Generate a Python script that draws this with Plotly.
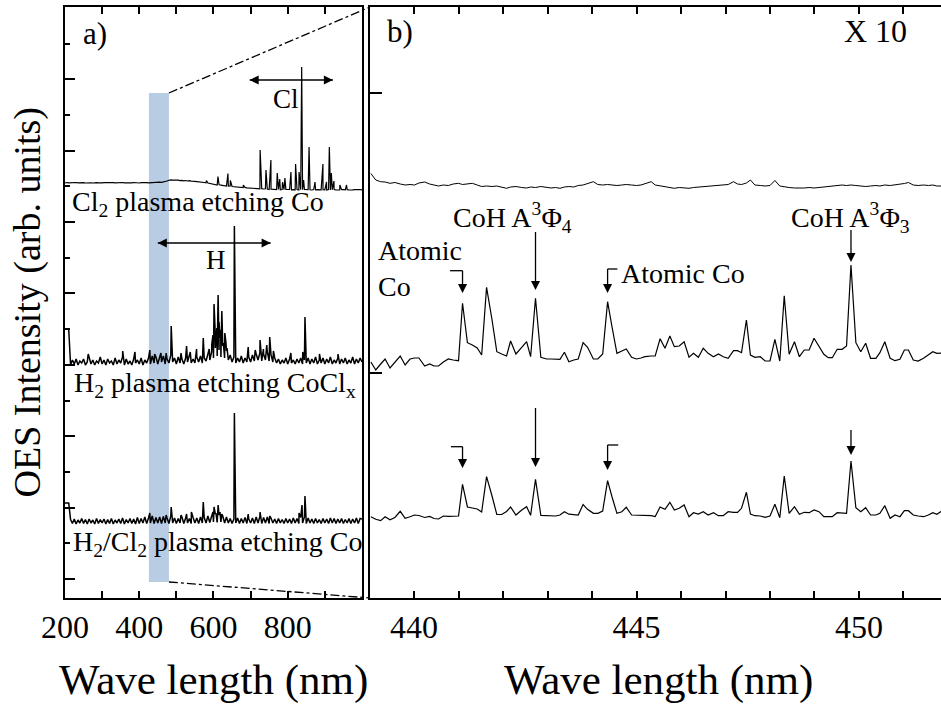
import plotly.graph_objects as go

# ---------------------------------------------------------------- data
# Survey spectra (panel a): baseline samples on a 5 nm grid plus emission lines
GRID_NM = list(range(200, 1001, 5))

cl2_noise = [
    41.50, 41.55, 41.52, 41.54, 41.50, 41.53, 41.55, 41.51, 41.53, 41.52,
    41.54, 41.50, 41.53, 41.55, 41.52, 41.50, 41.54, 41.53, 41.51, 41.55,
    41.52, 41.54, 41.50, 41.53, 41.55, 41.51, 41.53, 41.52, 41.54, 41.50,
    41.53, 41.55, 41.52, 41.50, 41.54, 41.53, 41.51, 41.55, 41.52, 41.54,
    41.50, 41.53, 41.55, 41.52, 41.54, 41.51, 41.53, 41.55, 41.52, 41.56,
    41.55, 41.58, 41.56, 41.60, 41.62, 41.70, 41.78, 41.82, 41.78, 41.80,
    41.76, 41.79, 41.74, 41.77, 41.72, 41.75, 41.70, 41.73, 41.68, 41.70,
    41.66, 41.64, 41.60, 41.62, 41.58, 41.55, 41.52, 41.50, 41.46, 41.42,
    41.38, 41.36, 41.30, 41.34, 41.28, 41.25, 41.22, 41.20, 41.18, 41.20,
    41.15, 41.12, 41.10, 41.12, 41.08, 41.06, 41.04, 41.06, 41.02, 41.00,
    40.98, 40.96, 40.95, 40.96, 40.94, 40.92, 40.93, 40.90, 40.92, 40.90,
    40.86, 40.88, 40.84, 40.87, 40.83, 40.86, 40.82, 40.85, 40.83, 40.86,
    40.82, 40.85, 40.81, 40.84, 40.82, 40.85, 40.81, 40.84, 40.82, 40.85,
    40.81, 40.84, 40.82, 40.80, 40.84, 40.81, 40.83, 40.85, 40.81, 40.84,
    40.82, 40.80, 40.84, 40.81, 40.83, 40.85, 40.81, 40.84, 40.80, 40.83,
    40.84, 40.81, 40.83, 40.80, 40.84, 40.81, 40.83, 40.85, 40.81, 40.83,
    40.82,
]
cl2_lines = [
    (581.0, 41.75), (612.0, 42.15), (639.0, 42.45), (645.5, 41.75), (680.5, 41.30),
    (725.7, 44.80), (741.4, 42.80), (754.7, 43.80), (771.8, 42.50), (778.5, 41.90),
    (786.0, 41.60), (792.4, 42.00), (808.7, 42.60), (821.2, 43.40), (830.5, 42.60),
    (837.6, 53.10), (842.8, 41.80), (857.5, 45.10), (873.5, 41.60), (894.8, 43.40),
    (904.5, 41.60), (912.1, 45.10), (917.5, 42.50), (924.5, 41.70), (940.5, 41.30),
    (958.5, 41.30),
]

h2_noise = [
    26.9, 26.9, 26.9, 23.3, 23.8, 23.4, 23.9, 23.3, 23.7, 23.5,
    23.9, 23.3, 23.6, 24.0, 23.4, 23.8, 23.3, 23.7, 23.5, 24.1,
    23.4, 23.8, 23.3, 23.9, 23.5, 23.7, 23.3, 24.0, 23.4, 23.8,
    23.5, 24.1, 23.3, 23.9, 23.4, 23.7, 23.3, 23.9, 23.5, 23.8,
    23.4, 24.0, 23.3, 23.8, 23.5, 24.0, 23.4, 24.2, 23.5, 24.1,
    23.4, 24.1, 23.6, 24.2, 23.4, 23.9, 23.5, 24.3, 23.6, 24.0,
    23.4, 24.1, 23.5, 23.9, 23.4, 24.0, 23.6, 24.2, 23.5, 23.9,
    23.5, 24.1, 23.6, 24.2, 23.5, 24.0, 23.7, 24.4, 23.8, 24.6,
    24.0, 25.0, 24.2, 24.8, 24.1, 25.2, 24.0, 24.7, 23.8, 24.3,
    23.6, 24.1, 23.5, 24.0, 23.6, 24.2, 23.5, 24.0, 23.6, 24.1,
    23.6, 24.3, 23.7, 24.4, 23.8, 24.5, 23.7, 24.4, 23.8, 24.6,
    23.7, 24.3, 23.6, 24.0, 23.5, 23.9, 23.4, 23.8, 23.5, 24.0,
    23.4, 23.9, 23.5, 23.8, 23.4, 23.9, 23.5, 24.0, 23.4, 23.8,
    23.5, 24.0, 23.4, 23.9, 23.5, 24.1, 23.4, 23.8, 23.5, 24.0,
    23.4, 23.9, 23.5, 24.1, 23.4, 23.8, 23.5, 24.0, 23.4, 23.9,
    23.5, 24.0, 23.4, 23.8, 23.5, 24.1, 23.4, 23.9, 23.5, 24.0,
    23.6,
]
h2_lines = [
    (262.5, 24.4), (355.5, 24.7), (388.5, 24.6), (428.5, 24.8), (441.5, 24.4),
    (458.5, 24.5), (472.5, 24.5), (486.1, 27.2), (512.5, 24.5), (527.5, 25.2),
    (537.5, 24.6), (554.5, 24.9), (572.5, 26.0), (588.5, 24.9), (595.5, 25.4),
    (598.5, 26.3), (601.5, 29.4), (604.0, 27.2), (606.5, 25.8), (609.0, 27.0),
    (612.5, 30.3), (615.0, 27.6), (617.5, 26.0), (619.5, 26.8), (622.5, 28.7),
    (626.5, 25.5), (630.5, 26.5), (633.5, 25.6), (636.5, 25.0), (656.3, 37.2),
    (693.5, 25.1), (712.5, 24.8), (725.5, 25.8), (734.5, 24.9), (743.5, 25.3),
    (751.5, 26.1), (761.5, 24.7), (808.5, 24.5), (840.5, 24.6), (846.5, 28.1),
    (885.5, 24.4), (935.5, 24.4),
]

h2cl2_noise = [
    9.50, 9.50, 9.50, 7.85, 7.45, 7.90, 7.40, 7.80, 7.50, 7.95,
    7.45, 7.85, 7.40, 7.90, 7.50, 7.80, 7.40, 7.95, 7.45, 7.85,
    7.50, 7.90, 7.40, 7.85, 7.45, 7.95, 7.40, 7.80, 7.50, 7.90,
    7.45, 8.00, 7.40, 7.85, 7.50, 7.95, 7.45, 7.90, 7.40, 8.05,
    7.45, 7.95, 7.50, 8.10, 7.45, 8.00, 7.50, 8.20, 7.45, 8.05,
    7.50, 8.10, 7.45, 8.15, 7.50, 8.00, 7.45, 8.20, 7.50, 8.00,
    7.45, 7.95, 7.50, 8.10, 7.45, 8.00, 7.50, 7.95, 7.45, 8.05,
    7.50, 8.00, 7.45, 8.10, 7.50, 8.05, 7.50, 8.20, 7.55, 8.30,
    7.60, 8.40, 7.55, 8.30, 7.60, 8.20, 7.50, 8.10, 7.50, 7.95,
    7.45, 7.90, 7.50, 8.00, 7.45, 7.95, 7.50, 8.05, 7.45, 7.90,
    7.50, 8.00, 7.45, 8.10, 7.50, 8.15, 7.45, 8.05, 7.50, 8.10,
    7.45, 8.00, 7.50, 7.90, 7.45, 7.95, 7.50, 7.85, 7.45, 7.95,
    7.50, 7.90, 7.45, 8.00, 7.50, 7.95, 7.45, 8.05, 7.50, 8.10,
    7.45, 8.00, 7.50, 7.90, 7.45, 7.95, 7.50, 7.85, 7.45, 7.95,
    7.50, 7.90, 7.45, 8.00, 7.50, 7.95, 7.45, 7.90, 7.50, 7.95,
    7.45, 7.85, 7.50, 7.95, 7.45, 7.90, 7.50, 8.00, 7.45, 7.95,
    7.90,
]
h2cl2_lines = [
    (428.5, 8.5), (472.5, 8.3), (486.1, 9.1), (512.5, 8.3), (527.5, 8.4),
    (540.5, 8.6), (572.5, 9.6), (598.5, 8.6), (601.5, 9.1), (606.5, 8.5),
    (612.5, 9.3), (617.5, 8.6), (622.5, 8.4), (656.3, 18.5), (693.5, 8.4),
    (725.5, 8.6), (751.5, 8.2), (830.5, 8.5), (838.5, 9.3), (846.5, 10.2),
]

# Zoomed window 439-452 nm (panel b), shared wavelength samples
wl_zoom = [
    439.03, 439.14, 439.25, 439.35, 439.46, 439.57, 439.69, 439.80, 439.91, 440.01,
    440.11, 440.24, 440.35, 440.45, 440.55, 440.66, 440.77, 440.88, 441.00, 441.09,
    441.20, 441.31, 441.42, 441.52, 441.63, 441.75, 441.86, 441.97, 442.08, 442.17,
    442.29, 442.42, 442.53, 442.62, 442.73, 442.85, 442.98, 443.08, 443.18, 443.28,
    443.38, 443.48, 443.59, 443.69, 443.80, 443.90, 444.03, 444.13, 444.24, 444.35,
    444.45, 444.56, 444.67, 444.77, 444.89, 445.00, 445.10, 445.19, 445.33, 445.42,
    445.53, 445.64, 445.75, 445.85, 445.96, 446.07, 446.18, 446.28, 446.39, 446.50,
    446.61, 446.73, 446.84, 446.95, 447.06, 447.18, 447.27, 447.36, 447.47, 447.56,
    447.66, 447.78, 447.89, 448.00, 448.11, 448.22, 448.32, 448.43, 448.55, 448.66,
    448.77, 448.88, 448.99, 449.10, 449.21, 449.31, 449.40, 449.51, 449.62, 449.72,
    449.82, 449.93, 450.04, 450.15, 450.26, 450.38, 450.47, 450.58, 450.70, 450.81,
    450.92, 451.02, 451.11, 451.22, 451.33, 451.45, 451.56, 451.66, 451.75, 451.84,
    451.96,
]
cl2_zoom = [
    42.45, 41.80, 41.63, 41.60, 41.47, 41.55, 41.40, 41.30, 41.35, 41.30,
    41.50, 41.60, 41.40, 41.30, 41.20, 41.30, 41.25, 41.40, 41.47, 41.35,
    41.40, 41.47, 41.30, 41.15, 41.20, 41.15, 41.20, 41.10, 40.97, 41.10,
    41.15, 41.05, 41.00, 41.10, 41.05, 41.15, 41.05, 41.00, 41.05, 40.97,
    41.10, 41.15, 41.10, 41.25, 41.30, 41.47, 41.63, 41.35, 41.30, 41.35,
    41.30, 41.25, 41.30, 41.35, 41.30, 41.25, 41.30, 41.40, 41.63, 41.30,
    41.20, 41.10, 41.00, 40.97, 41.05, 41.00, 40.97, 41.05, 41.10, 41.15,
    41.13, 41.20, 41.25, 41.30, 41.35, 41.63, 41.40, 41.35, 41.50, 41.80,
    41.30, 41.25, 41.20, 41.25, 41.75, 41.20, 41.10, 41.05, 41.00, 40.97,
    41.00, 41.05, 41.00, 41.05, 41.10, 41.15, 41.20, 41.25, 41.30, 41.25,
    41.30, 41.25, 41.20, 41.15, 41.20, 41.25, 41.20, 41.30, 41.25, 41.30,
    41.35, 41.45, 41.55, 41.30, 41.25, 41.30, 41.25, 41.30, 41.20, 41.20,
    41.20,
]
h2_zoom = [
    23.60, 22.80, 23.40, 23.90, 23.00, 23.60, 24.20, 23.30, 23.90, 24.00,
    24.00, 23.20, 23.40, 23.20, 23.20, 23.60, 23.90, 23.80, 23.73, 29.47,
    25.53, 25.30, 25.00, 24.30, 31.07, 27.90, 24.63, 24.40, 24.20, 25.70,
    24.40, 25.07, 25.63, 24.13, 29.97, 24.07, 23.90, 23.90, 23.87, 23.87,
    24.57, 23.63, 23.80, 23.90, 25.53, 25.07, 23.90, 23.90, 24.40, 29.63,
    27.10, 24.47, 24.70, 24.90, 24.07, 23.90, 24.00, 24.13, 24.20, 24.20,
    25.93, 24.97, 26.20, 25.13, 25.20, 25.63, 24.07, 24.47, 24.07, 24.97,
    24.47, 24.13, 24.40, 24.13, 23.97, 24.73, 24.73, 24.53, 27.80, 24.30,
    24.07, 24.13, 23.70, 23.70, 25.87, 23.70, 30.23, 24.37, 25.63, 24.13,
    24.80, 24.80, 25.97, 25.13, 24.37, 24.03, 24.03, 24.87, 24.87, 25.20,
    33.30, 25.53, 24.63, 25.47, 23.97, 23.97, 24.53, 25.63, 23.97, 23.73,
    23.87, 24.80, 24.80, 23.80, 23.70, 23.97, 24.30, 24.63, 24.47, 24.47,
    24.50,
]
h2cl2_zoom = [
    8.13, 7.87, 7.73, 8.13, 7.83, 8.05, 8.67, 7.97, 8.13, 8.30,
    8.25, 8.05, 8.15, 7.95, 7.90, 8.20, 8.17, 8.20, 8.20, 11.37,
    9.10, 9.00, 8.90, 8.60, 12.13, 10.25, 8.35, 8.35, 8.65, 9.10,
    8.30, 8.80, 9.13, 8.27, 11.87, 8.27, 8.25, 8.25, 8.20, 8.30,
    8.63, 8.38, 8.30, 8.30, 9.34, 8.87, 8.47, 8.47, 8.70, 11.73,
    10.10, 8.47, 8.63, 9.07, 8.30, 8.30, 8.25, 8.23, 8.23, 8.15,
    9.10, 8.87, 9.57, 8.80, 8.97, 9.30, 8.13, 8.53, 8.40, 8.63,
    8.30, 8.53, 8.23, 8.23, 8.63, 8.57, 8.57, 8.97, 10.57, 8.40,
    8.23, 8.20, 8.07, 8.20, 9.37, 8.03, 12.20, 8.47, 9.13, 8.37,
    8.57, 8.53, 8.80, 8.63, 8.13, 8.13, 8.13, 8.53, 8.47, 8.47,
    13.70, 9.03, 8.63, 9.03, 8.30, 8.30, 8.47, 9.23, 7.97, 8.30,
    8.13, 8.73, 8.73, 8.30, 8.20, 8.13, 8.30, 8.53, 8.37, 8.63,
    8.60,
]

# Peaks marked in panel b (nm)
atomic_co_peaks = [441.09, 444.35]
coh_a4_peak = 442.73
coh_a3_peak = 449.82

# Highlighted window in panel a (nm) and its vertical extent
window_nm = (426.0, 480.0)
window_level = (1.6, 50.5)

# Axis tick labels
survey_ticks = [200, 400, 600, 800]
zoom_ticks = [440, 445, 450]

# ---------------------------------------------------------------- layout geometry
W, H = 941, 705
ML, MR, MT, MB = 65, 0, 7, 107
X1_DOMAIN = [0.0, 0.3390]
X2_DOMAIN = [0.3482, 1.0]
X1_RANGE = [200, 1000]
X2_RANGE = [439.011, 451.843]
Y_RANGE = [0, 59.1]

FONT = "Liberation Serif, Times New Roman, serif"
BLACK = "#000000"


def spectrum(noise, lines):
    pts = sorted(list(zip(GRID_NM, noise)) + list(lines), key=lambda p: p[0])
    return [p[0] for p in pts], [p[1] for p in pts]


def paper_x(v, rng, dom):
    return dom[0] + (v - rng[0]) / (rng[1] - rng[0]) * (dom[1] - dom[0])


def paper_y(v):
    return (v - Y_RANGE[0]) / (Y_RANGE[1] - Y_RANGE[0])


fig = go.Figure()

# panel a spectra
for noise, lines, w in [(cl2_noise, cl2_lines, 1.2), (h2_noise, h2_lines, 1.5),
                        (h2cl2_noise, h2cl2_lines, 1.5)]:
    xs, ys = spectrum(noise, lines)
    fig.add_trace(go.Scatter(x=xs, y=ys, mode="lines", line=dict(color=BLACK, width=w),
                             xaxis="x", yaxis="y", showlegend=False, hoverinfo="skip"))

# panel b spectra
for ys, w in [(cl2_zoom, 1.0), (h2_zoom, 1.2), (h2cl2_zoom, 1.2)]:
    fig.add_trace(go.Scatter(x=wl_zoom, y=ys, mode="lines", line=dict(color=BLACK, width=w),
                             xaxis="x2", yaxis="y2", showlegend=False, hoverinfo="skip"))

shapes = []
# highlighted window
shapes.append(dict(type="rect", xref="x", yref="y", x0=window_nm[0], x1=window_nm[1],
                   y0=window_level[0], y1=window_level[1], fillcolor="#B8CCE4",
                   line=dict(width=0), layer="below"))
# zoom connectors
wx1 = paper_x(window_nm[1], X1_RANGE, X1_DOMAIN)
shapes.append(dict(type="line", xref="paper", yref="paper", x0=wx1, y0=paper_y(window_level[1]),
                   x1=X2_DOMAIN[0], y1=1.0, line=dict(color=BLACK, width=1.3, dash="dashdot")))
shapes.append(dict(type="line", xref="paper", yref="paper", x0=wx1, y0=paper_y(window_level[0]),
                   x1=X2_DOMAIN[0], y1=0.0, line=dict(color=BLACK, width=1.3, dash="dashdot")))

annotations = []


def text(x, y, s, xref, yref, size=28, xanchor="center", yanchor="middle", align="center"):
    annotations.append(dict(x=x, y=y, xref=xref, yref=yref, text=s, showarrow=False,
                            font=dict(family=FONT, size=size, color=BLACK),
                            xanchor=xanchor, yanchor=yanchor, align=align))


# arrow heads are drawn as markers whose tip sits on the given point
heads = {"x": {"x": [], "y": [], "s": []}, "x2": {"x": [], "y": [], "s": []}}


def seg(x0, y0, x1, y1, xref="x2", yref="y2"):
    shapes.append(dict(type="line", xref=xref, yref=yref, x0=x0, y0=y0, x1=x1, y1=y1,
                       line=dict(color=BLACK, width=1.3)))


def down_arrow(x, tip, tail, xref="x2", yref="y2"):
    seg(x, tail, x, tip + 0.6, xref, yref)
    heads[xref]["x"].append(x)
    heads[xref]["y"].append(tip)
    heads[xref]["s"].append("arrow-down")


def bent_arrow(x, tip, top, x_end):
    seg(x_end, top, x, top)
    down_arrow(x, tip, top)


def double_arrow(x0, x1, y):
    seg(x0, y, x1, y, "x", "y")
    heads["x"]["x"] += [x0, x1]
    heads["x"]["y"] += [y, y]
    heads["x"]["s"] += ["arrow-left", "arrow-right"]


# panel a labels
text(282, 56.5, "a)", "x", "y", size=31)
text(213, 39.5, "Cl<sub>2</sub> plasma etching Co", "x", "y", xanchor="left")
text(219, 21.4, "H<sub>2</sub> plasma etching CoCl<sub>x</sub>", "x", "y", xanchor="left")
text(216, 5.5, "H<sub>2</sub>/Cl<sub>2</sub> plasma etching Co", "x", "y", xanchor="left")
text(795, 49.9, "Cl", "x", "y", size=27)
text(607, 33.8, "H", "x", "y", size=27)
double_arrow(697.6, 921.7, 51.8)
double_arrow(450.0, 754.0, 35.5)

# panel b labels
text(439.69, 56.7, "b)", "x2", "y2", size=31)
text(450.38, 56.7, "X 10", "x2", "y2", size=32)
text(442.22, 38.1, "CoH A<sup>3</sup>Φ<sub>4</sub>", "x2", "y2")
text(449.82, 38.1, "CoH A<sup>3</sup>Φ<sub>3</sub>", "x2", "y2")
text(439.15, 33.0, "Atomic<br>Co", "x2", "y2", xanchor="left", align="left")
text(446.04, 32.5, "Atomic Co", "x2", "y2")

co1, co2 = atomic_co_peaks
# markers on the H2 trace
bent_arrow(co1, 30.5, 32.73, 440.81)
down_arrow(coh_a4_peak, 30.8, 36.6)
bent_arrow(co2, 30.5, 32.9, 444.57)
down_arrow(coh_a3_peak, 33.6, 36.8)
# markers on the H2/Cl2 trace
bent_arrow(co1, 13.0, 15.13, 440.83)
down_arrow(coh_a4_peak, 13.1, 19.0)
bent_arrow(co2, 12.8, 15.3, 444.59)
down_arrow(coh_a3_peak, 14.3, 16.8)

for xa, ya in [("x", "y"), ("x2", "y2")]:
    h = heads[xa]
    fig.add_trace(go.Scatter(x=h["x"], y=h["y"], mode="markers", xaxis=xa, yaxis=ya,
                             marker=dict(symbol=h["s"], size=9, color=BLACK,
                                         line=dict(width=0)),
                             showlegend=False, hoverinfo="skip", cliponaxis=False))

# axis titles
px_to_paper_y = lambda py: (H - MB - py) / (H - MB - MT)
px_to_paper_x = lambda px: (px - ML) / (W - ML - MR)
text(sum(X1_DOMAIN) / 2, px_to_paper_y(680), "Wave length (nm)", "paper", "paper", size=43)
text(px_to_paper_x(658), px_to_paper_y(680), "Wave length (nm)", "paper", "paper", size=43)
annotations.append(dict(x=px_to_paper_x(27), y=0.5, xref="paper", yref="paper",
                        text="OES Intensity (arb. units)", showarrow=False, textangle=-90,
                        font=dict(family=FONT, size=38, color=BLACK),
                        xanchor="center", yanchor="middle"))

axis_common = dict(showline=True, linecolor=BLACK, linewidth=2, showgrid=False, zeroline=False,
                   ticks="inside", tickcolor=BLACK, tickwidth=1.5,
                   tickfont=dict(family=FONT, size=32, color=BLACK))

fig.update_layout(
    width=W, height=H,
    margin=dict(l=ML, r=MR, t=MT, b=MB, autoexpand=False),
    paper_bgcolor="white", plot_bgcolor="white",
    xaxis=dict(domain=X1_DOMAIN, range=X1_RANGE, anchor="y", mirror="allticks", ticklen=7,
               tickvals=survey_ticks,
               minor=dict(ticks="inside", ticklen=7, tick0=200, dtick=100, tickcolor=BLACK,
                          tickwidth=1.5),
               **axis_common),
    yaxis=dict(domain=[0, 1], range=Y_RANGE, anchor="x", mirror=True, ticklen=10,
               tick0=1.9, dtick=7.14, showticklabels=False,
               minor=dict(ticks="inside", ticklen=5, tick0=1.9, dtick=3.57, tickcolor=BLACK,
                          tickwidth=1.5),
               **axis_common),
    xaxis2=dict(domain=X2_DOMAIN, range=X2_RANGE, anchor="y2", mirror="allticks", ticklen=7,
                tickvals=zoom_ticks,
                minor=dict(ticks="inside", ticklen=7, tick0=439, dtick=1, tickcolor=BLACK,
                           tickwidth=1.5),
                **axis_common),
    yaxis2=dict(domain=[0, 1], range=Y_RANGE, anchor="x2", mirror=False, ticklen=12,
                tickvals=[22.5, 50.5], showticklabels=False, **axis_common),
    shapes=shapes,
    annotations=annotations,
)

fig.write_html("out.html")
